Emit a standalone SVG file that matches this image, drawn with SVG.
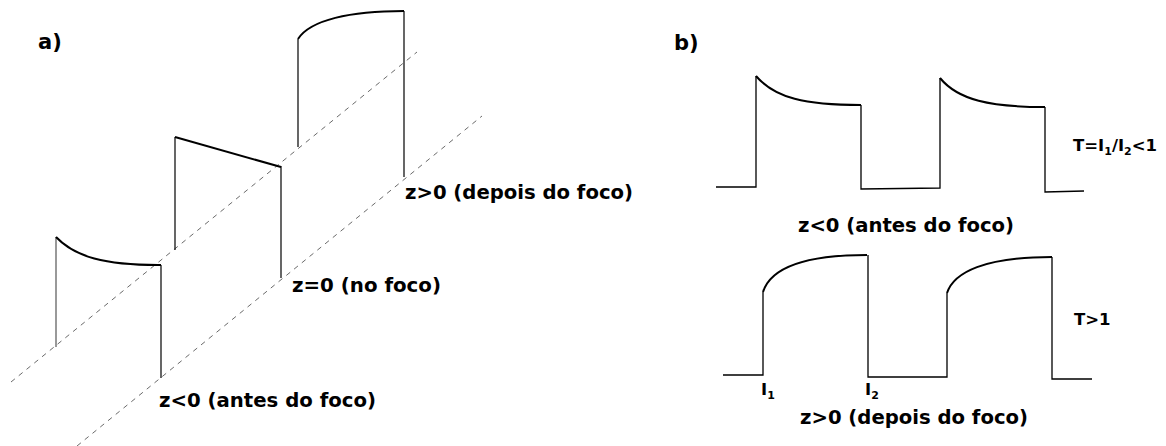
<svg xmlns="http://www.w3.org/2000/svg" width="1166" height="446" viewBox="0 0 1166 446">
<style>
.lbl{font-family:"DejaVu Sans",sans-serif;font-weight:bold;font-size:19.5px;fill:#000}
.big{font-family:"DejaVu Sans",sans-serif;font-weight:bold;font-size:21px;fill:#000}
.sm{font-family:"DejaVu Sans",sans-serif;font-weight:bold;font-size:16.5px;fill:#000}
.w{fill:none;stroke:#000;stroke-width:1.3}
.c{fill:none;stroke:#000;stroke-width:2}
.v{fill:none;stroke:#000;stroke-width:1.2}
.d{fill:none;stroke:#444;stroke-width:0.8;stroke-dasharray:5,5}
</style>
<rect width="1166" height="446" fill="#fff"/>
<g id="axes">
<line class="d" x1="11" y1="382" x2="417" y2="52"/>
<line class="d" x1="77" y1="446" x2="482" y2="116"/>
</g>
<g id="pa-wave-neg">
<line x1="56" y1="237" x2="56" y2="347" stroke="#777" stroke-width="1.5"/>
<path class="c" d="M56,237 C75,257 105,265 158,265 L161,265"/>
<line class="v" x1="161" y1="265" x2="161" y2="378"/>
</g>
<g id="pa-wave-zero">
<line class="v" x1="175" y1="137" x2="175" y2="250"/>
<path class="c" d="M175,137 L281,167"/>
<line class="v" x1="281" y1="166" x2="281" y2="278"/>
</g>
<g id="pa-wave-pos">
<line class="v" x1="298" y1="39" x2="298" y2="147"/>
<path class="c" d="M298,39 C310,20 350,11 404,11"/>
<line class="v" x1="404" y1="11" x2="404" y2="177"/>
</g>
<g id="pa-labels">
<text class="big" x="38" y="49">a)</text>
<text class="lbl" x="405" y="199" textLength="228" lengthAdjust="spacingAndGlyphs">z&gt;0 (depois do foco)</text>
<text class="lbl" x="292" y="292" textLength="149" lengthAdjust="spacingAndGlyphs">z=0 (no foco)</text>
<text class="lbl" x="159" y="407" textLength="217" lengthAdjust="spacingAndGlyphs">z&lt;0 (antes do foco)</text>
</g>
<g id="pb-top">
<path class="w" d="M716,187 L756,187 L756,76"/>
<path class="c" d="M756,76 C775,98 805,105 861,105"/>
<path class="w" d="M861,105 L861,189 L940,188 L940,78"/>
<path class="c" d="M940,78 C958,100 990,107 1045,107"/>
<path class="w" d="M1045,107 L1045,192 L1084,191"/>
</g>
<g id="pb-bottom">
<path class="w" d="M723,375 L763,375 L763,292"/>
<path class="c" d="M763,292 C770,270 800,255 867,255"/>
<path class="w" d="M868,255 L868,377 L947,377 L947,293"/>
<path class="c" d="M947,293 C954,272 985,257 1052,257"/>
<path class="w" d="M1052,257 L1052,379 L1092,379"/>
</g>
<g id="pb-labels">
<text class="big" x="674" y="50">b)</text>
<text class="sm" x="1073" y="151">T=I<tspan font-size="11" dy="4">1</tspan><tspan dy="-4">/I</tspan><tspan font-size="11" dy="4">2</tspan><tspan dy="-4">&lt;1</tspan></text>
<text class="lbl" x="798" y="232" textLength="216" lengthAdjust="spacingAndGlyphs">z&lt;0 (antes do foco)</text>
<text class="sm" x="1074" y="325">T&gt;1</text>
<text class="sm" x="761" y="395">I<tspan font-size="11" dy="4">1</tspan></text>
<text class="sm" x="865" y="395">I<tspan font-size="11" dy="4">2</tspan></text>
<text class="lbl" x="800" y="424" textLength="228" lengthAdjust="spacingAndGlyphs">z&gt;0 (depois do foco)</text>
</g>
</svg>
